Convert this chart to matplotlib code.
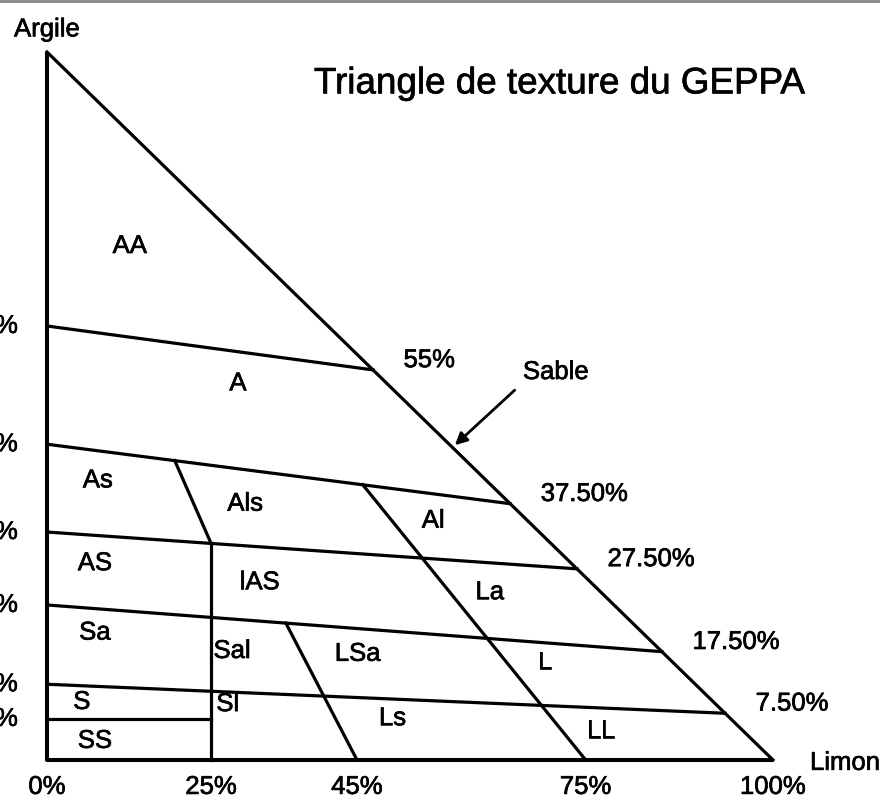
import numpy as np
import matplotlib
matplotlib.use("Agg")
import matplotlib.pyplot as plt
import matplotlib.patheffects as pe
from matplotlib.lines import Line2D

plt.rcParams["font.family"] = ["Liberation Sans", "DejaVu Sans"]

# Sloping clay limits: clay % at the left edge (limon = 0) and on the sand = 0 edge
clay_left = [61.3, 44.6, 32.2, 21.9, 10.7]
clay_right = [55.1, 36.2, 27.0, 15.3, 6.6]
left_labels = ["60%", "45%", "30%", "20%", "10%"]
right_labels = ["55%", "37.50%", "27.50%", "17.50%", "7.50%"]

# Horizontal S / SS limit (only up to the 25% limon line)
clay_ss = 5.8
label_ss = "5%"

# Limon positions read along the bottom edge
limon_ticks = [0, 22.6, 42.7, 74.2, 100]
limon_labels = ["0%", "25%", "45%", "75%", "100%"]

# Limon limits: limon where they leave a clay limit, limon at the bottom
as_als_top = 17.6      # on clay limit 1
al_la_top = 43.5       # on clay limit 1
lsa_ls_top = 32.9      # on clay limit 3

# Class names and where they sit (limon %, clay %)
classes = {
    "AA": (11.4, 72.6), "A": (26.3, 53.2),
    "As": (7.0, 39.5), "Als": (27.3, 36.2), "Al": (53.2, 33.8),
    "AS": (6.6, 27.8), "lAS": (29.3, 25.1), "La": (61.0, 23.7),
    "Sa": (6.6, 18.0), "Sal": (25.5, 15.4), "LSa": (42.8, 15.0), "L": (68.6, 13.8),
    "S": (4.8, 8.2), "Sl": (24.9, 7.9), "Ls": (47.6, 5.9), "LL": (76.3, 4.1),
    "SS": (6.6, 2.7),
}


def clay_on(i, limon):
    """Clay % of sloping limit i at a given limon %."""
    return np.interp(limon, [0, 100 - clay_right[i]], [clay_left[i], clay_right[i]])


fig = plt.figure(figsize=(8.8, 7.99), dpi=100)
ax = fig.add_axes([0, 0, 1, 1])
ax.set_xlim(-6.474, 114.74)
ax.set_ylim(-5.508, 107.345)
ax.axis("off")

lw = 2.3
# Triangle outline
ax.plot([0, 0, 100], [100, 0, 0], color="black", lw=lw + 0.6, solid_capstyle="butt")
ax.plot([0, 100], [100, 0], color="black", lw=lw)

# Sloping clay limits
for cl, cr in zip(clay_left, clay_right):
    ax.plot([0, 100 - cr], [cl, cr], color="black", lw=lw)
ax.plot([0, limon_ticks[1]], [clay_ss, clay_ss], color="black", lw=lw)

# Limon limits
v = limon_ticks[1]
ax.plot([v, v], [0, clay_on(2, v)], color="black", lw=lw)
ax.plot([as_als_top, v], [clay_on(1, as_als_top), clay_on(2, v)], color="black", lw=lw)
ax.plot([al_la_top, limon_ticks[3]], [clay_on(1, al_la_top), 0], color="black", lw=lw)
ax.plot([lsa_ls_top, limon_ticks[2]], [clay_on(3, lsa_ls_top), 0], color="black", lw=lw)

fs = 18.5
# slightly heavier strokes, like the scanned original
heavy = [pe.withStroke(linewidth=0.5, foreground="black")]

# Class names
for name, (x, y) in classes.items():
    ax.text(x, y, name, fontsize=fs, ha="center", va="center", path_effects=heavy)

# Clay values on the left edge (partly cut by the frame)
for cl, lab in zip(clay_left + [clay_ss], left_labels + [label_ss]):
    ax.text(-4.0, cl, lab, fontsize=fs, ha="right", va="center", path_effects=heavy)

# Clay values where limits meet the sand edge
for cr, lab in zip(clay_right, right_labels):
    ax.annotate(lab, xy=(100 - cr, cr), xytext=(22, 7), textcoords="offset points",
                fontsize=fs, ha="left", va="center", path_effects=heavy)

# Limon values along the bottom
for t, lab in zip(limon_ticks, limon_labels):
    ax.text(t, -3.8, lab, fontsize=fs, ha="center", va="center", path_effects=heavy)

ax.text(0, 101.5, "Argile", fontsize=fs, ha="center", va="bottom", path_effects=heavy)
ax.text(105.1, -0.4, "Limon", fontsize=fs, ha="left", va="center", path_effects=heavy)
ax.text(70.5, 95.5, "Triangle de texture du GEPPA", fontsize=26.5, ha="center", va="center",
        path_effects=heavy)

# Sable with its arrow pointing to the sand = 0 edge
ax.text(70.1, 54.8, "Sable", fontsize=fs, ha="center", va="center", path_effects=heavy)
ax.annotate("", xy=(55.9, 44.2), xytext=(64.7, 52.5),
            arrowprops=dict(arrowstyle="-|>", color="black", lw=2, mutation_scale=18))

# Thin grey border at the top of the picture
fig.add_artist(Line2D([0, 1], [0.999, 0.999], color="#888888", lw=2, transform=fig.transFigure))

fig.savefig("out.png", dpi=100, facecolor="white")
